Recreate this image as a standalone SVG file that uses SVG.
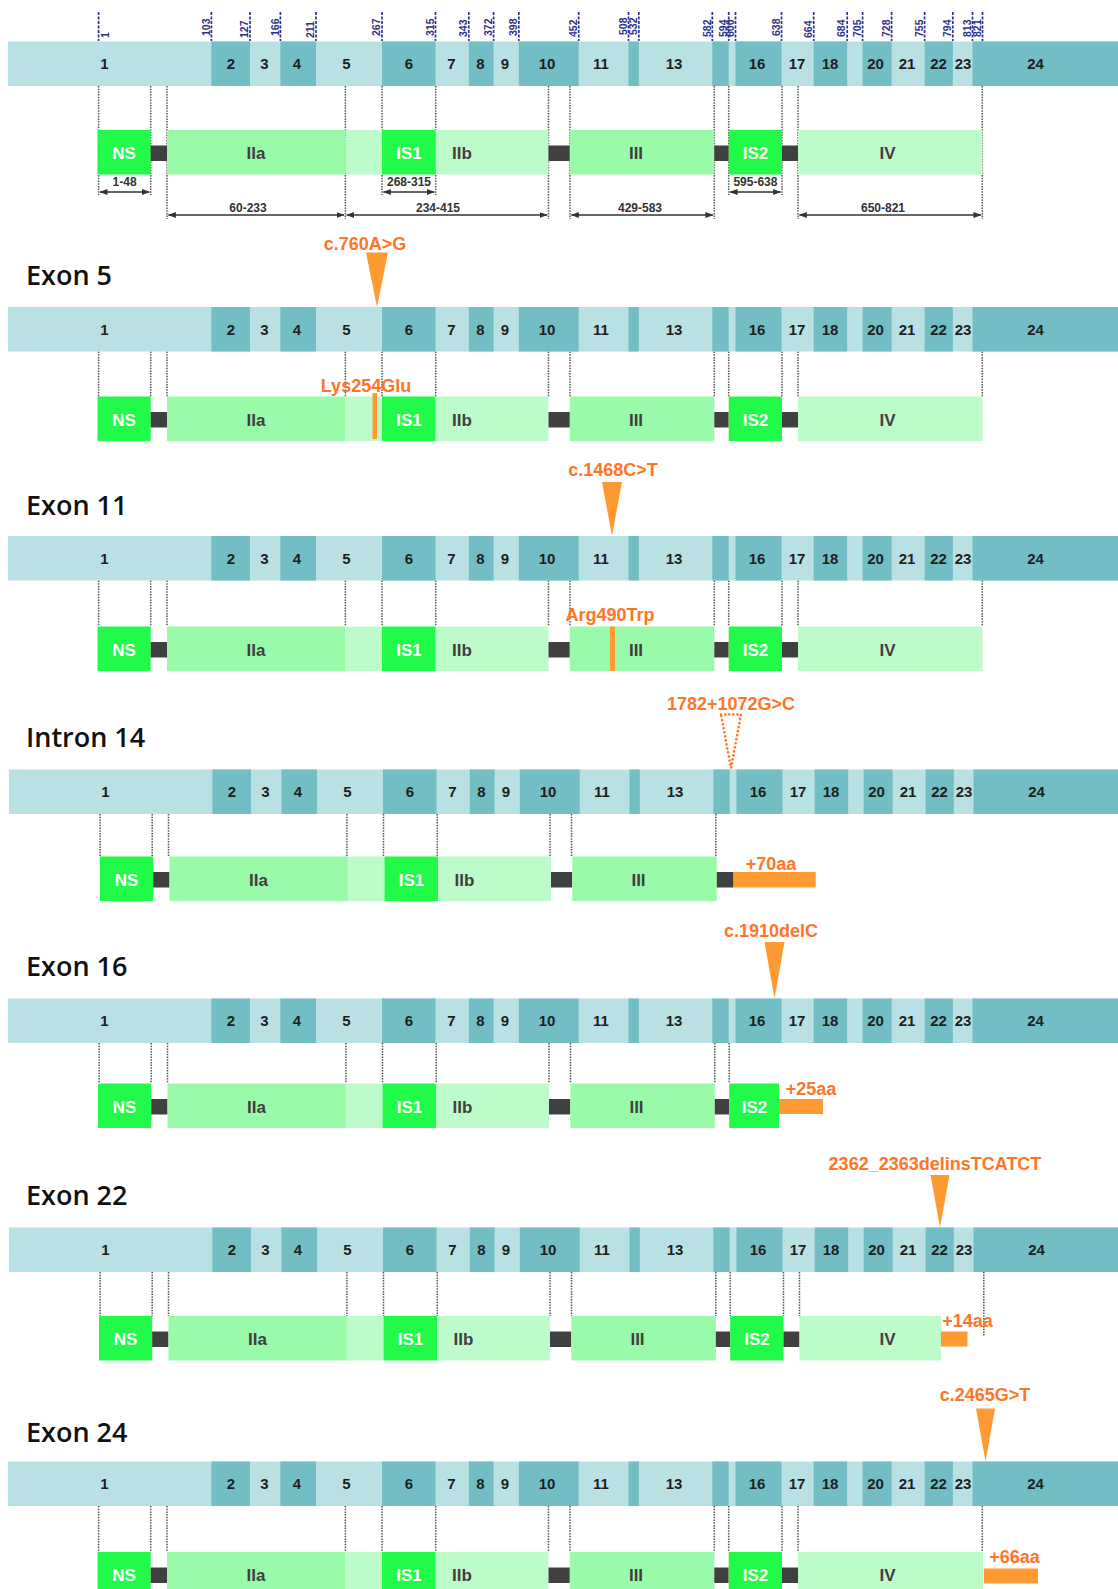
<svg xmlns="http://www.w3.org/2000/svg" xmlns:xlink="http://www.w3.org/1999/xlink" width="1118" height="1589" viewBox="0 0 1118 1589">
<style>
.eL{fill:#b9e1e4}.eD{fill:#72bec4}
.ex{font-family:"Liberation Sans",Arial,sans-serif;font-weight:bold;font-size:15px;fill:#1e1e1e;text-anchor:middle}
.bs{fill:#22fa4a}.bm{fill:#99fba9}.bl{fill:#bdfcca}.lk{fill:#404040}
.dl{font-family:"Liberation Sans",Arial,sans-serif;font-weight:bold;font-size:17px;text-anchor:middle}
.dw{fill:#ffffff}.dg{fill:#404040}
.num{font-family:"Liberation Sans",Arial,sans-serif;font-weight:bold;font-size:10.5px;fill:#2e3188}
.tk{stroke:#2e3188;stroke-width:1.7;stroke-dasharray:3 1.5;fill:none}
.dot{stroke:#555;stroke-width:1.5;stroke-dasharray:1.5 1.2;fill:none}
.rng{stroke:#333;stroke-width:1.4;fill:none;marker-start:url(#ah);marker-end:url(#ah)}
.rl{font-family:"Liberation Sans",Arial,sans-serif;font-weight:bold;font-size:12px;fill:#333;text-anchor:middle}
.title{font-family:"Open Sans","Noto Sans",sans-serif;font-weight:600;font-size:27px;fill:#111}
.mt{font-family:"Liberation Sans",Arial,sans-serif;font-weight:bold;font-size:18px;fill:#ff7426;text-anchor:middle}
.ml{font-family:"Liberation Sans",Arial,sans-serif;font-weight:bold;font-size:18px;fill:#ff7426;text-anchor:middle}
.tri{fill:#ff9a33}
.otri{fill:none;stroke:#ff7426;stroke-width:2.6;stroke-dasharray:0.1 4;stroke-linecap:round}
.ob{fill:#ff9a33}
</style>
<defs>
<marker id="ah" viewBox="0 0 8 6" refX="7.5" refY="3" markerWidth="8" markerHeight="6" markerUnits="userSpaceOnUse" orient="auto-start-reverse"><path d="M0,0 L8,3 L0,6 z" fill="#333"/></marker>
<g id="bar">
<rect class="eL" x="7.9" y="0" width="1110.1" height="44.5"/>
<rect class="eD" x="211.4" y="0" width="38.6" height="44.5"/>
<rect class="eD" x="280.4" y="0" width="35.6" height="44.5"/>
<rect class="eD" x="382" y="0" width="53.5" height="44.5"/>
<rect class="eD" x="468.8" y="0" width="24.8" height="44.5"/>
<rect class="eD" x="518.8" y="0" width="59.9" height="44.5"/>
<rect class="eD" x="628.5" y="0" width="10.3" height="44.5"/>
<rect class="eD" x="712.3" y="0" width="16.4" height="44.5"/>
<rect class="eD" x="735.5" y="0" width="46" height="44.5"/>
<rect class="eD" x="813.7" y="0" width="33.5" height="44.5"/>
<rect class="eD" x="862.6" y="0" width="29" height="44.5"/>
<rect class="eD" x="924.6" y="0" width="28.2" height="44.5"/>
<rect class="eD" x="972.5" y="0" width="145.5" height="44.5"/>
</g>
</defs>
<rect x="0" y="0" width="1118" height="1589" fill="#ffffff"/>

<!-- top numbering -->
<g id="aa-scale">
<line class="tk" x1="98.6" y1="12" x2="98.6" y2="41"/><text class="num" transform="translate(109,38) rotate(-90)">1</text>
<line class="tk" x1="211.4" y1="12" x2="211.4" y2="41"/><text class="num" transform="translate(209.6,36) rotate(-90)">103</text>
<line class="tk" x1="250" y1="12" x2="250" y2="41"/><text class="num" transform="translate(248.2,38) rotate(-90)">127</text>
<line class="tk" x1="280.4" y1="12" x2="280.4" y2="41"/><text class="num" transform="translate(278.6,36) rotate(-90)">166</text>
<line class="tk" x1="316" y1="12" x2="316" y2="41"/><text class="num" transform="translate(314.2,38) rotate(-90)">211</text>
<line class="tk" x1="382" y1="12" x2="382" y2="41"/><text class="num" transform="translate(380.2,36) rotate(-90)">267</text>
<line class="tk" x1="435.5" y1="12" x2="435.5" y2="41"/><text class="num" transform="translate(433.7,36) rotate(-90)">315</text>
<line class="tk" x1="468.8" y1="12" x2="468.8" y2="41"/><text class="num" transform="translate(467,37) rotate(-90)">343</text>
<line class="tk" x1="493.6" y1="12" x2="493.6" y2="41"/><text class="num" transform="translate(491.8,36) rotate(-90)">372</text>
<line class="tk" x1="518.8" y1="12" x2="518.8" y2="41"/><text class="num" transform="translate(517,36) rotate(-90)">398</text>
<line class="tk" x1="578.7" y1="12" x2="578.7" y2="41"/><text class="num" transform="translate(576.9,37) rotate(-90)">452</text>
<line class="tk" x1="628.5" y1="12" x2="628.5" y2="41"/><text class="num" transform="translate(626.7,35) rotate(-90)">508</text>
<line class="tk" x1="638.8" y1="12" x2="638.8" y2="41"/><text class="num" transform="translate(637,35) rotate(-90)">532</text>
<line class="tk" x1="712.3" y1="12" x2="712.3" y2="41"/><text class="num" transform="translate(710.5,37) rotate(-90)">582</text>
<line class="tk" x1="728.7" y1="12" x2="728.7" y2="41"/><text class="num" transform="translate(726.9,37) rotate(-90)">594</text>
<line class="tk" x1="735.5" y1="12" x2="735.5" y2="41"/><text class="num" transform="translate(733.7,37) rotate(-90)">600</text>
<line class="tk" x1="781.5" y1="12" x2="781.5" y2="41"/><text class="num" transform="translate(779.7,36) rotate(-90)">638</text>
<line class="tk" x1="813.7" y1="12" x2="813.7" y2="41"/><text class="num" transform="translate(811.9,38) rotate(-90)">664</text>
<line class="tk" x1="847.2" y1="12" x2="847.2" y2="41"/><text class="num" transform="translate(845.4,37) rotate(-90)">684</text>
<line class="tk" x1="862.6" y1="12" x2="862.6" y2="41"/><text class="num" transform="translate(860.8,37) rotate(-90)">705</text>
<line class="tk" x1="891.6" y1="12" x2="891.6" y2="41"/><text class="num" transform="translate(889.8,37) rotate(-90)">728</text>
<line class="tk" x1="924.6" y1="12" x2="924.6" y2="41"/><text class="num" transform="translate(922.8,37) rotate(-90)">755</text>
<line class="tk" x1="952.8" y1="12" x2="952.8" y2="41"/><text class="num" transform="translate(951,37) rotate(-90)">794</text>
<line class="tk" x1="972.5" y1="12" x2="972.5" y2="41"/><text class="num" transform="translate(970.7,37) rotate(-90)">813</text>
<line class="tk" x1="982.5" y1="12" x2="982.5" y2="41"/><text class="num" transform="translate(980.7,37) rotate(-90)">821</text>
</g>

<!-- connectors -->
<g id="connectors">
<g id="conn-0">
<line class="dot" x1="98.6" y1="86" x2="98.6" y2="195"/>
<line class="dot" x1="150.7" y1="86" x2="150.7" y2="195"/>
<line class="dot" x1="167" y1="86" x2="167" y2="219"/>
<line class="dot" x1="345.4" y1="86" x2="345.4" y2="219"/>
<line class="dot" x1="382" y1="86" x2="382" y2="195"/>
<line class="dot" x1="435.7" y1="86" x2="435.7" y2="195"/>
<line class="dot" x1="548.5" y1="86" x2="548.5" y2="219"/>
<line class="dot" x1="570" y1="86" x2="570" y2="219"/>
<line class="dot" x1="714.3" y1="86" x2="714.3" y2="219"/>
<line class="dot" x1="728.7" y1="86" x2="728.7" y2="195"/>
<line class="dot" x1="782" y1="86" x2="782" y2="195"/>
<line class="dot" x1="798" y1="86" x2="798" y2="219"/>
<line class="dot" x1="982.3" y1="86" x2="982.3" y2="219"/>
<line class="rng" x1="100" y1="192" x2="149.3" y2="192"/>
<line class="rng" x1="383.4" y1="192" x2="434.3" y2="192"/>
<line class="rng" x1="730.1" y1="192" x2="780.6" y2="192"/>
<line class="rng" x1="168.4" y1="215" x2="344" y2="215"/>
<line class="rng" x1="346.8" y1="215" x2="547.1" y2="215"/>
<line class="rng" x1="571.4" y1="215" x2="712.9" y2="215"/>
<line class="rng" x1="799.4" y1="215" x2="980.9" y2="215"/>
</g>
<g id="conn-1">
<line class="dot" x1="98.6" y1="351.5" x2="98.6" y2="396.5"/>
<line class="dot" x1="150.7" y1="351.5" x2="150.7" y2="396.5"/>
<line class="dot" x1="167" y1="351.5" x2="167" y2="396.5"/>
<line class="dot" x1="345.4" y1="351.5" x2="345.4" y2="396.5"/>
<line class="dot" x1="382" y1="351.5" x2="382" y2="396.5"/>
<line class="dot" x1="435.7" y1="351.5" x2="435.7" y2="396.5"/>
<line class="dot" x1="548.5" y1="351.5" x2="548.5" y2="396.5"/>
<line class="dot" x1="570" y1="351.5" x2="570" y2="396.5"/>
<line class="dot" x1="714.3" y1="351.5" x2="714.3" y2="396.5"/>
<line class="dot" x1="728.7" y1="351.5" x2="728.7" y2="396.5"/>
<line class="dot" x1="782" y1="351.5" x2="782" y2="396.5"/>
<line class="dot" x1="798" y1="351.5" x2="798" y2="396.5"/>
<line class="dot" x1="982.3" y1="351.5" x2="982.3" y2="396.5"/>
</g>
<g id="conn-2">
<line class="dot" x1="98.6" y1="580.5" x2="98.6" y2="626.5"/>
<line class="dot" x1="150.7" y1="580.5" x2="150.7" y2="626.5"/>
<line class="dot" x1="167" y1="580.5" x2="167" y2="626.5"/>
<line class="dot" x1="345.4" y1="580.5" x2="345.4" y2="626.5"/>
<line class="dot" x1="382" y1="580.5" x2="382" y2="626.5"/>
<line class="dot" x1="435.7" y1="580.5" x2="435.7" y2="626.5"/>
<line class="dot" x1="548.5" y1="580.5" x2="548.5" y2="626.5"/>
<line class="dot" x1="570" y1="580.5" x2="570" y2="626.5"/>
<line class="dot" x1="714.3" y1="580.5" x2="714.3" y2="626.5"/>
<line class="dot" x1="728.7" y1="580.5" x2="728.7" y2="626.5"/>
<line class="dot" x1="782" y1="580.5" x2="782" y2="626.5"/>
<line class="dot" x1="798" y1="580.5" x2="798" y2="626.5"/>
<line class="dot" x1="982.3" y1="580.5" x2="982.3" y2="626.5"/>
</g>
<g id="conn-3" transform="translate(1.5,0)">
<line class="dot" x1="98.6" y1="814" x2="98.6" y2="856.5"/>
<line class="dot" x1="150.7" y1="814" x2="150.7" y2="856.5"/>
<line class="dot" x1="167" y1="814" x2="167" y2="856.5"/>
<line class="dot" x1="345.4" y1="814" x2="345.4" y2="856.5"/>
<line class="dot" x1="382" y1="814" x2="382" y2="856.5"/>
<line class="dot" x1="435.7" y1="814" x2="435.7" y2="856.5"/>
<line class="dot" x1="548.5" y1="814" x2="548.5" y2="856.5"/>
<line class="dot" x1="570" y1="814" x2="570" y2="856.5"/>
<line class="dot" x1="714.3" y1="814" x2="714.3" y2="856.5"/>
</g>
<g id="conn-4" transform="translate(0.5,0)">
<line class="dot" x1="98.6" y1="1043" x2="98.6" y2="1083.5"/>
<line class="dot" x1="150.7" y1="1043" x2="150.7" y2="1083.5"/>
<line class="dot" x1="167" y1="1043" x2="167" y2="1083.5"/>
<line class="dot" x1="345.4" y1="1043" x2="345.4" y2="1083.5"/>
<line class="dot" x1="382" y1="1043" x2="382" y2="1083.5"/>
<line class="dot" x1="435.7" y1="1043" x2="435.7" y2="1083.5"/>
<line class="dot" x1="548.5" y1="1043" x2="548.5" y2="1083.5"/>
<line class="dot" x1="570" y1="1043" x2="570" y2="1083.5"/>
<line class="dot" x1="714.3" y1="1043" x2="714.3" y2="1083.5"/>
<line class="dot" x1="728.7" y1="1043" x2="728.7" y2="1083.5"/>
</g>
<g id="conn-5" transform="translate(1.5,0)">
<line class="dot" x1="98.6" y1="1272" x2="98.6" y2="1316"/>
<line class="dot" x1="150.7" y1="1272" x2="150.7" y2="1316"/>
<line class="dot" x1="167" y1="1272" x2="167" y2="1316"/>
<line class="dot" x1="345.4" y1="1272" x2="345.4" y2="1316"/>
<line class="dot" x1="382" y1="1272" x2="382" y2="1316"/>
<line class="dot" x1="435.7" y1="1272" x2="435.7" y2="1316"/>
<line class="dot" x1="548.5" y1="1272" x2="548.5" y2="1316"/>
<line class="dot" x1="570" y1="1272" x2="570" y2="1316"/>
<line class="dot" x1="714.3" y1="1272" x2="714.3" y2="1316"/>
<line class="dot" x1="728.7" y1="1272" x2="728.7" y2="1316"/>
<line class="dot" x1="782" y1="1272" x2="782" y2="1316"/>
<line class="dot" x1="798" y1="1272" x2="798" y2="1316"/>
<line class="dot" x1="982.3" y1="1272" x2="982.3" y2="1336"/>
</g>
<g id="conn-6">
<line class="dot" x1="98.6" y1="1506" x2="98.6" y2="1552"/>
<line class="dot" x1="150.7" y1="1506" x2="150.7" y2="1552"/>
<line class="dot" x1="167" y1="1506" x2="167" y2="1552"/>
<line class="dot" x1="345.4" y1="1506" x2="345.4" y2="1552"/>
<line class="dot" x1="382" y1="1506" x2="382" y2="1552"/>
<line class="dot" x1="435.7" y1="1506" x2="435.7" y2="1552"/>
<line class="dot" x1="548.5" y1="1506" x2="548.5" y2="1552"/>
<line class="dot" x1="570" y1="1506" x2="570" y2="1552"/>
<line class="dot" x1="714.3" y1="1506" x2="714.3" y2="1552"/>
<line class="dot" x1="728.7" y1="1506" x2="728.7" y2="1552"/>
<line class="dot" x1="782" y1="1506" x2="782" y2="1552"/>
<line class="dot" x1="798" y1="1506" x2="798" y2="1552"/>
<line class="dot" x1="982.3" y1="1506" x2="982.3" y2="1552"/>
</g>
</g>

<!-- range labels -->
<g id="ranges">
<text class="rl" x="124.6" y="186">1-48</text>
<text class="rl" x="409" y="186">268-315</text>
<text class="rl" x="755.4" y="186">595-638</text>
<text class="rl" x="248" y="212">60-233</text>
<text class="rl" x="438" y="212">234-415</text>
<text class="rl" x="640" y="212">429-583</text>
<text class="rl" x="883" y="212">650-821</text>
</g>

<!-- ===== Section 0: reference ===== -->
<g id="gene-0" transform="translate(0,41.5)">
<use href="#bar" xlink:href="#bar"/>
<text class="ex" x="104.5" y="27.5">1</text><text class="ex" x="231" y="27.5">2</text><text class="ex" x="264.5" y="27.5">3</text><text class="ex" x="297" y="27.5">4</text><text class="ex" x="346.5" y="27.5">5</text><text class="ex" x="409" y="27.5">6</text><text class="ex" x="451.5" y="27.5">7</text><text class="ex" x="480.5" y="27.5">8</text><text class="ex" x="505" y="27.5">9</text><text class="ex" x="547" y="27.5">10</text><text class="ex" x="601" y="27.5">11</text><text class="ex" x="674" y="27.5">13</text><text class="ex" x="757" y="27.5">16</text><text class="ex" x="797" y="27.5">17</text><text class="ex" x="830" y="27.5">18</text><text class="ex" x="875.5" y="27.5">20</text><text class="ex" x="907" y="27.5">21</text><text class="ex" x="938.5" y="27.5">22</text><text class="ex" x="963" y="27.5">23</text><text class="ex" x="1035.5" y="27.5">24</text>
</g>
<g id="protein-0" transform="translate(0,130)">
<g id="p0-NS"><rect class="bs" x="97.5" y="0" width="53.2" height="44.5"/><text class="dl dw" x="124" y="29">NS</text></g>
<rect class="lk" x="150.7" y="15.5" width="16.3" height="15.5"/>
<g id="p0-IIa"><rect class="bm" x="167" y="0" width="178.4" height="44.5"/><text class="dl dg" x="256" y="29">IIa</text></g>
<rect class="bl" x="345.4" y="0" width="36.6" height="44.5"/>
<g id="p0-IS1"><rect class="bs" x="382" y="0" width="53.7" height="44.5"/><text class="dl dw" x="409" y="29">IS1</text></g>
<g id="p0-IIb"><rect class="bl" x="435.7" y="0" width="112.8" height="44.5"/><text class="dl dg" x="462" y="29">IIb</text></g>
<rect class="lk" x="548.5" y="15.5" width="21.3" height="15.5"/>
<g id="p0-III"><rect class="bm" x="569.8" y="0" width="144.5" height="44.5"/><text class="dl dg" x="636" y="29">III</text></g>
<rect class="lk" x="714.3" y="15.5" width="14.4" height="15.5"/>
<g id="p0-IS2"><rect class="bs" x="728.7" y="0" width="53.3" height="44.5"/><text class="dl dw" x="755.5" y="29">IS2</text></g>
<rect class="lk" x="782" y="15.5" width="16" height="15.5"/>
<g id="p0-IV"><rect class="bl" x="798" y="0" width="184.5" height="44.5"/><text class="dl dg" x="887.5" y="29">IV</text></g>
</g>

<!-- ===== Section 1: Exon 5 ===== -->
<text class="title" x="26" y="285">Exon 5</text>
<g id="mut-1">
<text class="mt" x="365" y="250">c.760A&gt;G</text>
<polygon class="tri" points="366,252.5 388,252.5 377,307"/>
</g>
<g id="gene-1" transform="translate(0,307)">
<use href="#bar" xlink:href="#bar"/>
<text class="ex" x="104.5" y="27.5">1</text><text class="ex" x="231" y="27.5">2</text><text class="ex" x="264.5" y="27.5">3</text><text class="ex" x="297" y="27.5">4</text><text class="ex" x="346.5" y="27.5">5</text><text class="ex" x="409" y="27.5">6</text><text class="ex" x="451.5" y="27.5">7</text><text class="ex" x="480.5" y="27.5">8</text><text class="ex" x="505" y="27.5">9</text><text class="ex" x="547" y="27.5">10</text><text class="ex" x="601" y="27.5">11</text><text class="ex" x="674" y="27.5">13</text><text class="ex" x="757" y="27.5">16</text><text class="ex" x="797" y="27.5">17</text><text class="ex" x="830" y="27.5">18</text><text class="ex" x="875.5" y="27.5">20</text><text class="ex" x="907" y="27.5">21</text><text class="ex" x="938.5" y="27.5">22</text><text class="ex" x="963" y="27.5">23</text><text class="ex" x="1035.5" y="27.5">24</text>
</g>
<g id="protein-1" transform="translate(0,396.5)">
<g id="p1-NS"><rect class="bs" x="97.5" y="0" width="53.2" height="44.5"/><text class="dl dw" x="124" y="29">NS</text></g>
<rect class="lk" x="150.7" y="15.5" width="16.3" height="15.5"/>
<g id="p1-IIa"><rect class="bm" x="167" y="0" width="178.4" height="44.5"/><text class="dl dg" x="256" y="29">IIa</text></g>
<rect class="bl" x="345.4" y="0" width="36.6" height="44.5"/>
<g id="p1-IS1"><rect class="bs" x="382" y="0" width="53.7" height="44.5"/><text class="dl dw" x="409" y="29">IS1</text></g>
<g id="p1-IIb"><rect class="bl" x="435.7" y="0" width="112.8" height="44.5"/><text class="dl dg" x="462" y="29">IIb</text></g>
<rect class="lk" x="548.5" y="15.5" width="21.3" height="15.5"/>
<g id="p1-III"><rect class="bm" x="569.8" y="0" width="144.5" height="44.5"/><text class="dl dg" x="636" y="29">III</text></g>
<rect class="lk" x="714.3" y="15.5" width="14.4" height="15.5"/>
<g id="p1-IS2"><rect class="bs" x="728.7" y="0" width="53.3" height="44.5"/><text class="dl dw" x="755.5" y="29">IS2</text></g>
<rect class="lk" x="782" y="15.5" width="16" height="15.5"/>
<g id="p1-IV"><rect class="bl" x="798" y="0" width="184.5" height="44.5"/><text class="dl dg" x="887.5" y="29">IV</text></g>
<rect class="ob" x="372.5" y="-3.5" width="4.5" height="46"/>
<text class="ml" x="366" y="-5">Lys254Glu</text>
</g>

<!-- ===== Section 2: Exon 11 ===== -->
<text class="title" x="26" y="515">Exon 11</text>
<g id="mut-2">
<text class="mt" x="613" y="476">c.1468C&gt;T</text>
<polygon class="tri" points="602,482 622,482 612,536"/>
</g>
<g id="gene-2" transform="translate(0,536)">
<use href="#bar" xlink:href="#bar"/>
<text class="ex" x="104.5" y="27.5">1</text><text class="ex" x="231" y="27.5">2</text><text class="ex" x="264.5" y="27.5">3</text><text class="ex" x="297" y="27.5">4</text><text class="ex" x="346.5" y="27.5">5</text><text class="ex" x="409" y="27.5">6</text><text class="ex" x="451.5" y="27.5">7</text><text class="ex" x="480.5" y="27.5">8</text><text class="ex" x="505" y="27.5">9</text><text class="ex" x="547" y="27.5">10</text><text class="ex" x="601" y="27.5">11</text><text class="ex" x="674" y="27.5">13</text><text class="ex" x="757" y="27.5">16</text><text class="ex" x="797" y="27.5">17</text><text class="ex" x="830" y="27.5">18</text><text class="ex" x="875.5" y="27.5">20</text><text class="ex" x="907" y="27.5">21</text><text class="ex" x="938.5" y="27.5">22</text><text class="ex" x="963" y="27.5">23</text><text class="ex" x="1035.5" y="27.5">24</text>
</g>
<g id="protein-2" transform="translate(0,626.5)">
<g id="p2-NS"><rect class="bs" x="97.5" y="0" width="53.2" height="44.5"/><text class="dl dw" x="124" y="29">NS</text></g>
<rect class="lk" x="150.7" y="15.5" width="16.3" height="15.5"/>
<g id="p2-IIa"><rect class="bm" x="167" y="0" width="178.4" height="44.5"/><text class="dl dg" x="256" y="29">IIa</text></g>
<rect class="bl" x="345.4" y="0" width="36.6" height="44.5"/>
<g id="p2-IS1"><rect class="bs" x="382" y="0" width="53.7" height="44.5"/><text class="dl dw" x="409" y="29">IS1</text></g>
<g id="p2-IIb"><rect class="bl" x="435.7" y="0" width="112.8" height="44.5"/><text class="dl dg" x="462" y="29">IIb</text></g>
<rect class="lk" x="548.5" y="15.5" width="21.3" height="15.5"/>
<g id="p2-III"><rect class="bm" x="569.8" y="0" width="144.5" height="44.5"/><text class="dl dg" x="636" y="29">III</text></g>
<rect class="lk" x="714.3" y="15.5" width="14.4" height="15.5"/>
<g id="p2-IS2"><rect class="bs" x="728.7" y="0" width="53.3" height="44.5"/><text class="dl dw" x="755.5" y="29">IS2</text></g>
<rect class="lk" x="782" y="15.5" width="16" height="15.5"/>
<g id="p2-IV"><rect class="bl" x="798" y="0" width="184.5" height="44.5"/><text class="dl dg" x="887.5" y="29">IV</text></g>
<rect class="ob" x="610" y="0" width="5" height="44.5"/>
<text class="ml" x="610" y="-5.5">Arg490Trp</text>
</g>

<!-- ===== Section 3: Intron 14 ===== -->
<text class="title" x="26" y="747">Intron 14</text>
<g id="mut-3">
<text class="mt" x="731" y="710">1782+1072G&gt;C</text>
<polygon class="otri" points="721,714.5 741,714.5 731,768"/>
</g>
<g id="gene-3" transform="translate(1,769.5)">
<use href="#bar" xlink:href="#bar"/>
<text class="ex" x="104.5" y="27.5">1</text><text class="ex" x="231" y="27.5">2</text><text class="ex" x="264.5" y="27.5">3</text><text class="ex" x="297" y="27.5">4</text><text class="ex" x="346.5" y="27.5">5</text><text class="ex" x="409" y="27.5">6</text><text class="ex" x="451.5" y="27.5">7</text><text class="ex" x="480.5" y="27.5">8</text><text class="ex" x="505" y="27.5">9</text><text class="ex" x="547" y="27.5">10</text><text class="ex" x="601" y="27.5">11</text><text class="ex" x="674" y="27.5">13</text><text class="ex" x="757" y="27.5">16</text><text class="ex" x="797" y="27.5">17</text><text class="ex" x="830" y="27.5">18</text><text class="ex" x="875.5" y="27.5">20</text><text class="ex" x="907" y="27.5">21</text><text class="ex" x="938.5" y="27.5">22</text><text class="ex" x="963" y="27.5">23</text><text class="ex" x="1035.5" y="27.5">24</text>
</g>
<g id="protein-3" transform="translate(2.5,856.5)">
<g id="p3-NS"><rect class="bs" x="97.5" y="0" width="53.2" height="44.5"/><text class="dl dw" x="124" y="29">NS</text></g>
<rect class="lk" x="150.7" y="15.5" width="16.3" height="15.5"/>
<g id="p3-IIa"><rect class="bm" x="167" y="0" width="178.4" height="44.5"/><text class="dl dg" x="256" y="29">IIa</text></g>
<rect class="bl" x="345.4" y="0" width="36.6" height="44.5"/>
<g id="p3-IS1"><rect class="bs" x="382" y="0" width="53.7" height="44.5"/><text class="dl dw" x="409" y="29">IS1</text></g>
<g id="p3-IIb"><rect class="bl" x="435.7" y="0" width="112.8" height="44.5"/><text class="dl dg" x="462" y="29">IIb</text></g>
<rect class="lk" x="548.5" y="15.5" width="21.3" height="15.5"/>
<g id="p3-III"><rect class="bm" x="569.8" y="0" width="144.5" height="44.5"/><text class="dl dg" x="636" y="29">III</text></g>
<rect class="lk" x="714.3" y="15.5" width="16.7" height="15.5"/>
<g id="p3-ext"><rect class="ob" x="731" y="15.5" width="82.2" height="15.5"/><text class="ml" x="768.5" y="13.5">+70aa</text></g>
</g>

<!-- ===== Section 4: Exon 16 ===== -->
<text class="title" x="26" y="976">Exon 16</text>
<g id="mut-4">
<text class="mt" x="771" y="937">c.1910delC</text>
<polygon class="tri" points="764.5,942 784.5,942 774.5,998.5"/>
</g>
<g id="gene-4" transform="translate(0,998.5)">
<use href="#bar" xlink:href="#bar"/>
<text class="ex" x="104.5" y="27.5">1</text><text class="ex" x="231" y="27.5">2</text><text class="ex" x="264.5" y="27.5">3</text><text class="ex" x="297" y="27.5">4</text><text class="ex" x="346.5" y="27.5">5</text><text class="ex" x="409" y="27.5">6</text><text class="ex" x="451.5" y="27.5">7</text><text class="ex" x="480.5" y="27.5">8</text><text class="ex" x="505" y="27.5">9</text><text class="ex" x="547" y="27.5">10</text><text class="ex" x="601" y="27.5">11</text><text class="ex" x="674" y="27.5">13</text><text class="ex" x="757" y="27.5">16</text><text class="ex" x="797" y="27.5">17</text><text class="ex" x="830" y="27.5">18</text><text class="ex" x="875.5" y="27.5">20</text><text class="ex" x="907" y="27.5">21</text><text class="ex" x="938.5" y="27.5">22</text><text class="ex" x="963" y="27.5">23</text><text class="ex" x="1035.5" y="27.5">24</text>
</g>
<g id="protein-4" transform="translate(0.5,1083.5)">
<g id="p4-NS"><rect class="bs" x="97.5" y="0" width="53.2" height="44.5"/><text class="dl dw" x="124" y="29">NS</text></g>
<rect class="lk" x="150.7" y="15.5" width="16.3" height="15.5"/>
<g id="p4-IIa"><rect class="bm" x="167" y="0" width="178.4" height="44.5"/><text class="dl dg" x="256" y="29">IIa</text></g>
<rect class="bl" x="345.4" y="0" width="36.6" height="44.5"/>
<g id="p4-IS1"><rect class="bs" x="382" y="0" width="53.7" height="44.5"/><text class="dl dw" x="409" y="29">IS1</text></g>
<g id="p4-IIb"><rect class="bl" x="435.7" y="0" width="112.8" height="44.5"/><text class="dl dg" x="462" y="29">IIb</text></g>
<rect class="lk" x="548.5" y="15.5" width="21.3" height="15.5"/>
<g id="p4-III"><rect class="bm" x="569.8" y="0" width="144.5" height="44.5"/><text class="dl dg" x="636" y="29">III</text></g>
<rect class="lk" x="714.3" y="15.5" width="14.4" height="15.5"/>
<g id="p4-IS2"><rect class="bs" x="728.7" y="0" width="49.8" height="44.5"/><text class="dl dw" x="754" y="29">IS2</text></g>
<g id="p4-ext"><rect class="ob" x="778.5" y="15.5" width="44" height="15"/><text class="ml" x="810.5" y="11.5">+25aa</text></g>
</g>

<!-- ===== Section 5: Exon 22 ===== -->
<text class="title" x="26" y="1205">Exon 22</text>
<g id="mut-5">
<text class="mt" x="935" y="1170">2362_2363delinsTCATCT</text>
<polygon class="tri" points="930.5,1175 949.5,1175 940,1227.5"/>
</g>
<g id="gene-5" transform="translate(1,1227.5)">
<use href="#bar" xlink:href="#bar"/>
<text class="ex" x="104.5" y="27.5">1</text><text class="ex" x="231" y="27.5">2</text><text class="ex" x="264.5" y="27.5">3</text><text class="ex" x="297" y="27.5">4</text><text class="ex" x="346.5" y="27.5">5</text><text class="ex" x="409" y="27.5">6</text><text class="ex" x="451.5" y="27.5">7</text><text class="ex" x="480.5" y="27.5">8</text><text class="ex" x="505" y="27.5">9</text><text class="ex" x="547" y="27.5">10</text><text class="ex" x="601" y="27.5">11</text><text class="ex" x="674" y="27.5">13</text><text class="ex" x="757" y="27.5">16</text><text class="ex" x="797" y="27.5">17</text><text class="ex" x="830" y="27.5">18</text><text class="ex" x="875.5" y="27.5">20</text><text class="ex" x="907" y="27.5">21</text><text class="ex" x="938.5" y="27.5">22</text><text class="ex" x="963" y="27.5">23</text><text class="ex" x="1035.5" y="27.5">24</text>
</g>
<g id="protein-5" transform="translate(1.5,1316)">
<g id="p5-NS"><rect class="bs" x="97.5" y="0" width="53.2" height="44.5"/><text class="dl dw" x="124" y="29">NS</text></g>
<rect class="lk" x="150.7" y="15.5" width="16.3" height="15.5"/>
<g id="p5-IIa"><rect class="bm" x="167" y="0" width="178.4" height="44.5"/><text class="dl dg" x="256" y="29">IIa</text></g>
<rect class="bl" x="345.4" y="0" width="36.6" height="44.5"/>
<g id="p5-IS1"><rect class="bs" x="382" y="0" width="53.7" height="44.5"/><text class="dl dw" x="409" y="29">IS1</text></g>
<g id="p5-IIb"><rect class="bl" x="435.7" y="0" width="112.8" height="44.5"/><text class="dl dg" x="462" y="29">IIb</text></g>
<rect class="lk" x="548.5" y="15.5" width="21.3" height="15.5"/>
<g id="p5-III"><rect class="bm" x="569.8" y="0" width="144.5" height="44.5"/><text class="dl dg" x="636" y="29">III</text></g>
<rect class="lk" x="714.3" y="15.5" width="14.4" height="15.5"/>
<g id="p5-IS2"><rect class="bs" x="728.7" y="0" width="53.3" height="44.5"/><text class="dl dw" x="755.5" y="29">IS2</text></g>
<rect class="lk" x="782" y="15.5" width="16" height="15.5"/>
<g id="p5-IV"><rect class="bl" x="798" y="0" width="141.5" height="44.5"/><text class="dl dg" x="886" y="29">IV</text></g>
<g id="p5-ext"><rect class="ob" x="939.5" y="15.5" width="26.5" height="15"/><text class="ml" x="966" y="11">+14aa</text></g>
</g>

<!-- ===== Section 6: Exon 24 ===== -->
<text class="title" x="26" y="1442">Exon 24</text>
<g id="mut-6">
<text class="mt" x="985" y="1401">c.2465G&gt;T</text>
<polygon class="tri" points="976,1408.5 995,1408.5 985.5,1461.5"/>
</g>
<g id="gene-6" transform="translate(0,1461.5)">
<use href="#bar" xlink:href="#bar"/>
<text class="ex" x="104.5" y="27.5">1</text><text class="ex" x="231" y="27.5">2</text><text class="ex" x="264.5" y="27.5">3</text><text class="ex" x="297" y="27.5">4</text><text class="ex" x="346.5" y="27.5">5</text><text class="ex" x="409" y="27.5">6</text><text class="ex" x="451.5" y="27.5">7</text><text class="ex" x="480.5" y="27.5">8</text><text class="ex" x="505" y="27.5">9</text><text class="ex" x="547" y="27.5">10</text><text class="ex" x="601" y="27.5">11</text><text class="ex" x="674" y="27.5">13</text><text class="ex" x="757" y="27.5">16</text><text class="ex" x="797" y="27.5">17</text><text class="ex" x="830" y="27.5">18</text><text class="ex" x="875.5" y="27.5">20</text><text class="ex" x="907" y="27.5">21</text><text class="ex" x="938.5" y="27.5">22</text><text class="ex" x="963" y="27.5">23</text><text class="ex" x="1035.5" y="27.5">24</text>
</g>
<g id="protein-6" transform="translate(0,1552)">
<g id="p6-NS"><rect class="bs" x="97.5" y="0" width="53.2" height="44.5"/><text class="dl dw" x="124" y="29">NS</text></g>
<rect class="lk" x="150.7" y="15.5" width="16.3" height="15.5"/>
<g id="p6-IIa"><rect class="bm" x="167" y="0" width="178.4" height="44.5"/><text class="dl dg" x="256" y="29">IIa</text></g>
<rect class="bl" x="345.4" y="0" width="36.6" height="44.5"/>
<g id="p6-IS1"><rect class="bs" x="382" y="0" width="53.7" height="44.5"/><text class="dl dw" x="409" y="29">IS1</text></g>
<g id="p6-IIb"><rect class="bl" x="435.7" y="0" width="112.8" height="44.5"/><text class="dl dg" x="462" y="29">IIb</text></g>
<rect class="lk" x="548.5" y="15.5" width="21.3" height="15.5"/>
<g id="p6-III"><rect class="bm" x="569.8" y="0" width="144.5" height="44.5"/><text class="dl dg" x="636" y="29">III</text></g>
<rect class="lk" x="714.3" y="15.5" width="14.4" height="15.5"/>
<g id="p6-IS2"><rect class="bs" x="728.7" y="0" width="53.3" height="44.5"/><text class="dl dw" x="755.5" y="29">IS2</text></g>
<rect class="lk" x="782" y="15.5" width="16" height="15.5"/>
<g id="p6-IV"><rect class="bl" x="798" y="0" width="185" height="44.5"/><text class="dl dg" x="887.5" y="29">IV</text></g>
<g id="p6-ext"><rect class="ob" x="984" y="16.5" width="54" height="15"/><text class="ml" x="1014.5" y="11">+66aa</text></g>
</g>
</svg>
